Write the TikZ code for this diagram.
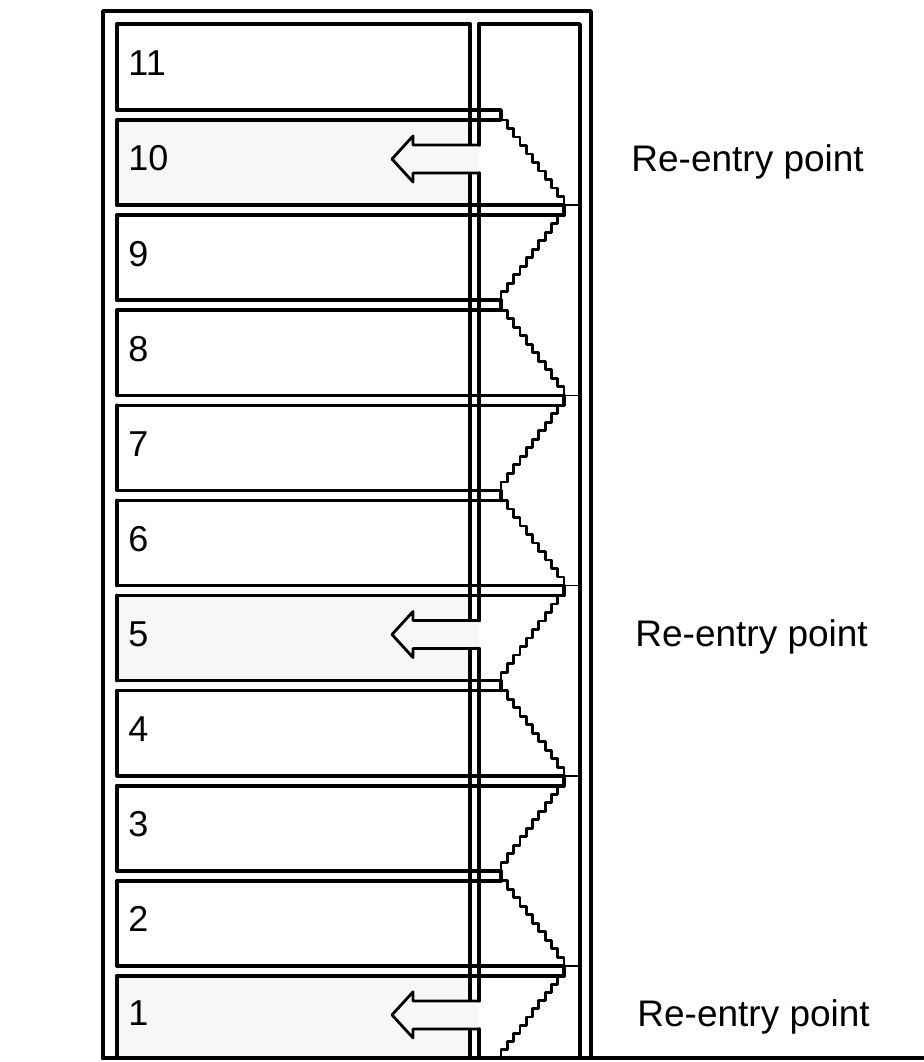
\documentclass[tikz,border=0pt]{standalone}
\usepackage{fontspec}
\setmainfont{Liberation Sans}
\usepackage{tikz}
\usetikzlibrary{calc}

\begin{document}
\begin{tikzpicture}[x=0.5pt, y=-0.5pt, line cap=round, line join=round,
	wall/.style={line width=1.8pt},
	stair/.style={line width=1.4pt},
	thinline/.style={line width=0.8pt},
	floornum/.style={anchor=west, inner sep=0pt, font=\fontsize{18}{20}\selectfont},
	reentry/.style={anchor=base west, inner sep=0pt, font=\fontsize{18.5}{20}\selectfont}]
	
	%====================
	% 0) 画布范围
	%====================
	\useasboundingbox (0,0) rectangle (923,1062);
	
	%====================
	% 1) 参数
	%====================
	\def\xL{117}  % 楼层左边
	\def\xS{470}  % 竖井左线
	\def\xR{479}  % 竖井右线 / 楼梯间左边
	\def\xE{580}  % 楼梯间右边
	\def\xl{501}  % 楼梯折点（左）
	\def\xr{564}  % 楼梯折点（右）
	\def\yG{1058} % 地面
	\def\slab#1{(115+(10-(#1))*95.1)} % 第 #1 与 #1+1 层之间楼板的中心
	
	%====================
	% 2) 重返楼层的底色
	%====================
	\foreach \n in {10,5,1}{
		\pgfmathsetmacro{\yt}{\slab{\n}+5}
		\pgfmathsetmacro{\yb}{\n==1 ? \yG : \slab{\n-1}-5}
		\fill[black!3] (\xL,\yt) rectangle (\xS,\yb);
	}
	
	%====================
	% 3) 外框、楼梯间、地面
	%====================
	\draw[wall] (103,\yG) -- (103,11) -- (591,11) -- (591,\yG);
	\draw[wall] (\xR,24) -- (\xE,24) -- (\xE,\yG);
	\draw[line width=2.2pt] (103,\yG) -- (923,\yG);
	
	% 竖井两条线（箭头处断开）
	\foreach \xs in {\xS,\xR}
	\draw[wall] (\xs,24) -- (\xs,{\slab{10}+30})
	(\xs,{\slab{10}+58}) -- (\xs,{\slab{5}+30})
	(\xs,{\slab{5}+58}) -- (\xs,{\slab{1}+30})
	(\xs,{\slab{1}+58}) -- (\xs,\yG);
	
	%====================
	% 4) 楼层与楼板
	%====================
	\draw[wall] (\xL,24) -- (\xS,24);
	\foreach \n in {1,...,11}{
		\pgfmathsetmacro{\yt}{\n==11 ? 24 : \slab{\n}+5}
		\pgfmathsetmacro{\yb}{\n==1 ? \yG : \slab{\n-1}-5}
		\draw[wall] (\xL,\yt) -- (\xL,\yb);
		\node[floornum] (f\n) at (128,{(\yt+\yb)/2-4}) {\n};
	}
	
	\foreach \n in {1,...,10}{
		\pgfmathsetmacro{\ys}{\slab{\n}}
		\pgfmathsetmacro{\xt}{mod(\n,2)==0 ? \xl : \xr}
		\draw[wall] (\xL,\ys-5) -- (\xt,\ys-5) -- (\xt,\ys+5) -- (\xL,\ys+5);
	}
	
	% 右折点处的细线
	\foreach \n in {1,3,...,9}
	\draw[thinline] (\xr,{\slab{\n}-5}) -- (\xE,{\slab{\n}-5});
	
	%====================
	% 5) 楼梯（台阶折线）
	%====================
	\foreach \n in {1,...,10}{
		\pgfmathsetmacro{\xa}{mod(\n,2)==0 ? \xl : \xr}
		\pgfmathsetmacro{\xb}{mod(\n,2)==0 ? \xr : \xl}
		\pgfmathsetmacro{\ya}{\slab{\n}+5}
		\pgfmathsetmacro{\yb}{\n==1 ? \yG : \slab{\n-1}-5}
		\draw[stair] (\xa,\ya) \foreach \i in {1,...,10}{ -| ({\xa+(\xb-\xa)*\i/10},{\ya+(\yb-\ya)*\i/10}) };
	}
	
	%====================
	% 6) 重返箭头
	%====================
	\foreach \n in {10,5,1}{
		\pgfmathsetmacro{\at}{\slab{\n}+30}
		\pgfmathsetmacro{\ab}{\slab{\n}+58}
		\pgfmathsetmacro{\am}{\slab{\n}+44}
		\draw[stair, fill=black!3] (\xR,\at) -- (413,\at) -- (413,\at-9) -- (392,\am)
		-- (413,\ab+9) -- (413,\ab) -- (\xR,\ab);
	}
	
	%====================
	% 7) 标注
	%====================
	\node[reentry] (r10) at (631,171) {Re-entry point};
	\node[reentry] (r5)  at (635,646) {Re-entry point};
	\node[reentry] (r1)  at (637,1026) {Re-entry point};
	
\end{tikzpicture}
\end{document}
